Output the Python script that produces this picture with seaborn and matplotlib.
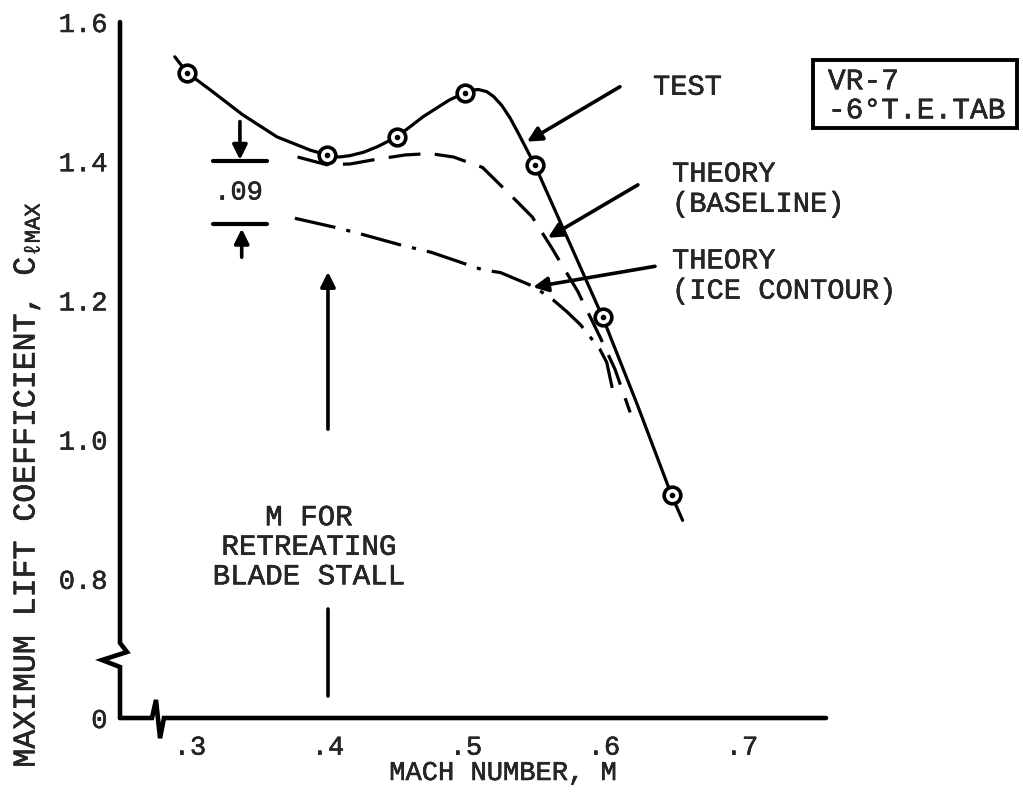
import numpy as np
import pandas as pd
import matplotlib
matplotlib.use("Agg")
import matplotlib.pyplot as plt
import matplotlib.patheffects as pe
from matplotlib.patches import Rectangle
import seaborn as sns

# test points (Mach, Cl max)
test_mach = [0.298, 0.399, 0.450, 0.499, 0.550, 0.599, 0.649]
test_clmax = [1.527, 1.409, 1.435, 1.498, 1.394, 1.176, 0.920]

# faired curves
test_curve_m = [0.289, 0.298, 0.315, 0.338, 0.363, 0.387, 0.399, 0.408, 0.416, 0.426,
                0.436, 0.450, 0.469, 0.488, 0.499, 0.504, 0.509, 0.515, 0.520, 0.526,
                0.532, 0.538, 0.544, 0.550, 0.575, 0.599, 0.624, 0.649, 0.657]
test_curve_cl = [1.550, 1.527, 1.502, 1.467, 1.435, 1.416, 1.409, 1.406, 1.408, 1.413,
                 1.421, 1.435, 1.464, 1.488, 1.498, 1.502, 1.503, 1.500, 1.493, 1.480,
                 1.462, 1.440, 1.417, 1.394, 1.283, 1.176, 1.051, 0.920, 0.884]

base_m = [0.378, 0.399, 0.416, 0.433, 0.456, 0.474, 0.491, 0.512, 0.532, 0.548,
          0.562, 0.581, 0.597, 0.608, 0.619]
base_cl = [1.406, 1.395, 1.396, 1.402, 1.409, 1.411, 1.406, 1.391, 1.352, 1.320,
           1.276, 1.213, 1.148, 1.101, 1.039]

ice_m = [0.376, 0.405, 0.421, 0.452, 0.475, 0.512, 0.525, 0.549, 0.563, 0.573,
         0.583, 0.597, 0.602, 0.607]
ice_cl = [1.318, 1.305, 1.297, 1.280, 1.269, 1.244, 1.240, 1.220, 1.201, 1.184,
          1.165, 1.130, 1.111, 1.065]

x_ticks = [0.3, 0.4, 0.5, 0.6, 0.7]
x_ticklabels = ['.3', '.4', '.5', '.6', '.7']
y_ticks = [0.6, 0.8, 1.0, 1.2, 1.4, 1.6]   # 0.6 position stands for the broken "0"
y_ticklabels = ['0', '0.8', '1.0', '1.2', '1.4', '1.6']

gap_top = 1.40
gap = 0.09
stall_mach = 0.40

sns.set_style("white")
plt.rcParams['font.family'] = ['Liberation Mono', 'DejaVu Sans Mono']
plt.rcParams['mathtext.fontset'] = 'custom'
plt.rcParams['mathtext.rm'] = 'Liberation Mono'
plt.rcParams['mathtext.it'] = 'Liberation Mono'

FS = 19.5
FA = 20.7
K = 'black'
ink = [pe.withStroke(linewidth=0.35, foreground=K)]

fig = plt.figure(figsize=(10.23, 7.96), dpi=100)
ax = fig.add_axes([120/1023, 78/796, 706/1023, 696/796])

sns.lineplot(x=test_curve_m, y=test_curve_cl, ax=ax, color=K, lw=2.3, sort=False, estimator=None)
sns.lineplot(x=base_m, y=base_cl, ax=ax, color=K, lw=2.3, sort=False, estimator=None,
             linestyle=(0, (10, 4.5)))
sns.lineplot(x=ice_m, y=ice_cl, ax=ax, color=K, lw=2.3, sort=False, estimator=None,
             linestyle=(0, (13, 3.5, 1.3, 3.5)))
ax.plot(test_mach, test_clmax, 'o', ms=12, mfc='white', mec=K, mew=2.6, zorder=5)
ax.plot(test_mach, test_clmax, 'o', ms=3, color=K, zorder=6)

ax.set_xlim(0.2493, 0.7609)
ax.set_ylim(0.6, 1.6)
ax.set_xticks(x_ticks)
ax.set_xticklabels(x_ticklabels)
ax.set_yticks(y_ticks)
ax.set_yticklabels(y_ticklabels)
ax.tick_params(axis='y', direction='in', length=9, width=3, labelsize=FS, pad=9)
ax.tick_params(axis='x', direction='in', length=7.5, width=2.5, labelsize=FS, pad=12)
ax.yaxis.get_major_ticks()[0].tick1line.set_visible(False)
for lab in ax.get_xticklabels() + ax.get_yticklabels():
    lab.set_path_effects(ink)
for s in ax.spines.values():
    s.set_visible(False)

# axes with break marks
ax.plot([0, 0, -0.0255, 0.0099, 0, 0], [0, 0.0733, 0.0833, 0.0948, 0.1078, 1],
        transform=ax.transAxes, color=K, lw=3.3, clip_on=False, solid_joinstyle='miter')
ax.plot([0, 0.0453, 0.051, 0.0567, 0.0623, 1], [0, 0, 0.026, -0.029, 0, 0],
        transform=ax.transAxes, color=K, lw=3.3, clip_on=False, solid_joinstyle='miter')

# .09 dimension
ax.plot([0.3167, 0.3558], [gap_top, gap_top], color=K, lw=3)
ax.plot([0.3167, 0.3558], [gap_top - gap, gap_top - gap], color=K, lw=3)
arr = dict(arrowstyle='-|>', color=K, lw=2.6, mutation_scale=22, shrinkA=0, shrinkB=0)
ax.annotate('', xy=(0.3362, gap_top + 0.002), xytext=(0.3362, 1.457), arrowprops=arr)
ax.annotate('', xy=(0.3375, gap_top - gap - 0.007), xytext=(0.3375, 1.262), arrowprops=arr)
ax.text(0.3352, 1.355, '.09', fontsize=FS, ha='center', va='center', path_effects=ink)

# retreating blade stall marker
ax.annotate('', xy=(stall_mach, 1.241), xytext=(stall_mach, 1.015), arrowprops=arr)
ax.plot([stall_mach, stall_mach], [0.757, 0.632], color=K, lw=2.6)
ax.text(0.3862, 0.846, 'M FOR\nRETREATING\nBLADE STALL', fontsize=21, ha='center',
        va='center', multialignment='center', linespacing=1.07, path_effects=ink)

# curve call-outs
ax.annotate('', xy=(0.5442, 1.428), xytext=(0.6116, 1.507), arrowprops=arr)
ax.text(0.6355, 1.507, 'TEST', fontsize=FA, ha='left', va='center', path_effects=ink)
ax.annotate('', xy=(0.5594, 1.290), xytext=(0.6246, 1.366), arrowprops=arr)
ax.text(0.6493, 1.3605, 'THEORY\n(BASELINE)', fontsize=FA, ha='left', va='center',
        linespacing=1.1, path_effects=ink)
ax.annotate('', xy=(0.5486, 1.219), xytext=(0.6370, 1.249), arrowprops=arr)
ax.text(0.6493, 1.2358, 'THEORY\n(ICE CONTOUR)', fontsize=FA, ha='left', va='center',
        linespacing=1.1, path_effects=ink)

ax.add_patch(Rectangle((0.7514, 1.448), 0.1479, 0.0975, fill=False, ec=K, lw=2.8,
                       clip_on=False))
ax.text(0.7623, 1.494, 'VR-7\n-6°T.E.TAB', fontsize=21.3, ha='left', va='center',
        linespacing=1.05, path_effects=ink)

fig.text(503/1023, 1 - 773/796, 'MACH NUMBER, M', fontsize=FS, ha='center', va='center',
         path_effects=ink)
fig.text(27/1023, 1 - 485/796, r'MAXIMUM LIFT COEFFICIENT, C$_{\ell \mathrm{MAX}}$', fontsize=22.7,
         rotation=90, ha='center', va='center', path_effects=ink)

fig.savefig('out.png', dpi=100, facecolor='white')
